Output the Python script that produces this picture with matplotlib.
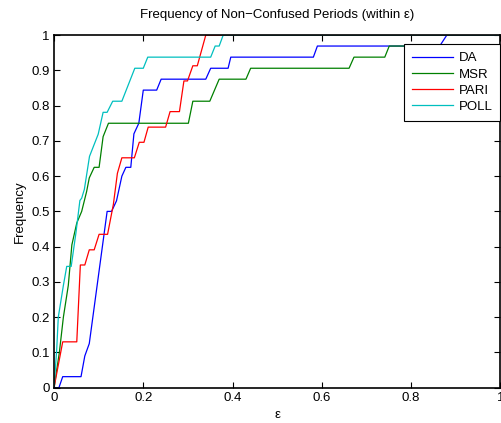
import matplotlib
matplotlib.use("Agg")
import matplotlib.pyplot as plt

plt.rcParams['font.family'] = ['Liberation Sans', 'DejaVu Sans']
plt.rcParams['axes.unicode_minus'] = True

# curves (epsilon, frequency)
da_x = [0, 0.011, 0.0195, 0.0605, 0.069, 0.079, 0.119, 0.129, 0.140, 0.152,
        0.161, 0.172, 0.179, 0.190, 0.200, 0.230, 0.240, 0.340, 0.351, 0.390,
        0.396, 0.581, 0.590, 0.864, 0.880, 1.0]
da_y = [0, 0, 0.03125, 0.03125, 0.09, 0.125, 0.5, 0.5, 0.53, 0.6,
        0.625, 0.625, 0.72, 0.75, 0.844, 0.844, 0.875, 0.875, 0.906, 0.906,
        0.9375, 0.9375, 0.969, 0.969, 1.0, 1.0]

msr_x = [0, 0.012, 0.021, 0.032, 0.040, 0.051, 0.062, 0.073, 0.079, 0.090,
         0.101, 0.110, 0.122, 0.301, 0.311, 0.349, 0.370, 0.430, 0.4405, 0.661,
         0.672, 0.741, 0.751, 1.0]
msr_y = [0, 0.1, 0.2, 0.29, 0.405, 0.467, 0.5, 0.556, 0.595, 0.625,
         0.625, 0.712, 0.75, 0.75, 0.8125, 0.8125, 0.875, 0.875, 0.906, 0.906,
         0.9375, 0.9375, 0.969, 0.969]

pari_x = [0, 0.0195, 0.051, 0.059, 0.069, 0.079, 0.090, 0.101, 0.120, 0.133,
          0.142, 0.152, 0.180, 0.191, 0.2015, 0.211, 0.250, 0.260, 0.281, 0.291,
          0.299, 0.311, 0.321, 0.340, 1.0]
pari_y = [0, 0.13, 0.13, 0.348, 0.348, 0.391, 0.391, 0.435, 0.435, 0.52,
          0.608, 0.652, 0.652, 0.696, 0.696, 0.739, 0.739, 0.783, 0.783, 0.870,
          0.870, 0.913, 0.913, 1.0, 1.0]

poll_x = [0, 0.006, 0.0096, 0.021, 0.0285, 0.0385, 0.049, 0.058, 0.062, 0.068,
          0.0795, 0.099, 0.110, 0.119, 0.1315, 0.152, 0.181, 0.200, 0.210, 0.351,
          0.361, 0.370, 0.379, 1.0]
poll_y = [0, 0.107, 0.2, 0.29, 0.344, 0.344, 0.438, 0.531, 0.5375, 0.5625,
          0.656, 0.719, 0.781, 0.781, 0.8125, 0.8125, 0.906, 0.906, 0.9375, 0.9375,
          0.969, 0.969, 1.0, 1.0]

labels = ['DA', 'MSR', 'PARI', 'POLL']
colors = ['#0000ff', '#008000', '#ff0000', '#00bfbf']

fs = 9.5

fig = plt.figure(figsize=(5.01, 4.23), dpi=100)
ax = fig.add_axes([0.1078, 0.0835, 0.891, 0.8335])

series = [(da_x, da_y), (msr_x, msr_y), (pari_x, pari_y), (poll_x, poll_y)]
for (xs, ys), lab, col in zip(series, labels, colors):
    ax.plot(xs, ys, color=col, linewidth=0.9, label=lab)

ax.set_xlim(0, 1)
ax.set_ylim(0, 1)
ax.set_xticks([0, 0.2, 0.4, 0.6, 0.8, 1])
ax.set_xticklabels(['0', '0.2', '0.4', '0.6', '0.8', '1'])
ax.set_yticks([i / 10 for i in range(11)])
ax.set_yticklabels(['0', '0.1', '0.2', '0.3', '0.4', '0.5', '0.6', '0.7', '0.8', '0.9', '1'])
ax.tick_params(direction='in', top=True, right=True, length=4, width=0.8,
               labelsize=fs, pad=3)
for sp in ax.spines.values():
    sp.set_linewidth(1.2)

ax.set_title('Frequency of Non\u2212Confused Periods (within \u03b5)', fontsize=fs, pad=12)
ax.set_xlabel('\u03b5', fontsize=fs, labelpad=4)
ax.set_ylabel('Frequency', fontsize=fs, labelpad=4)

leg = ax.legend(loc='upper right', bbox_to_anchor=(1.0, 0.974), fontsize=fs,
                fancybox=False, edgecolor='black', framealpha=1,
                handlelength=3.1, handletextpad=0.45, labelspacing=0.3,
                borderpad=0.6, borderaxespad=0)
leg.get_frame().set_linewidth(0.8)

fig.savefig('out.png', dpi=100)
